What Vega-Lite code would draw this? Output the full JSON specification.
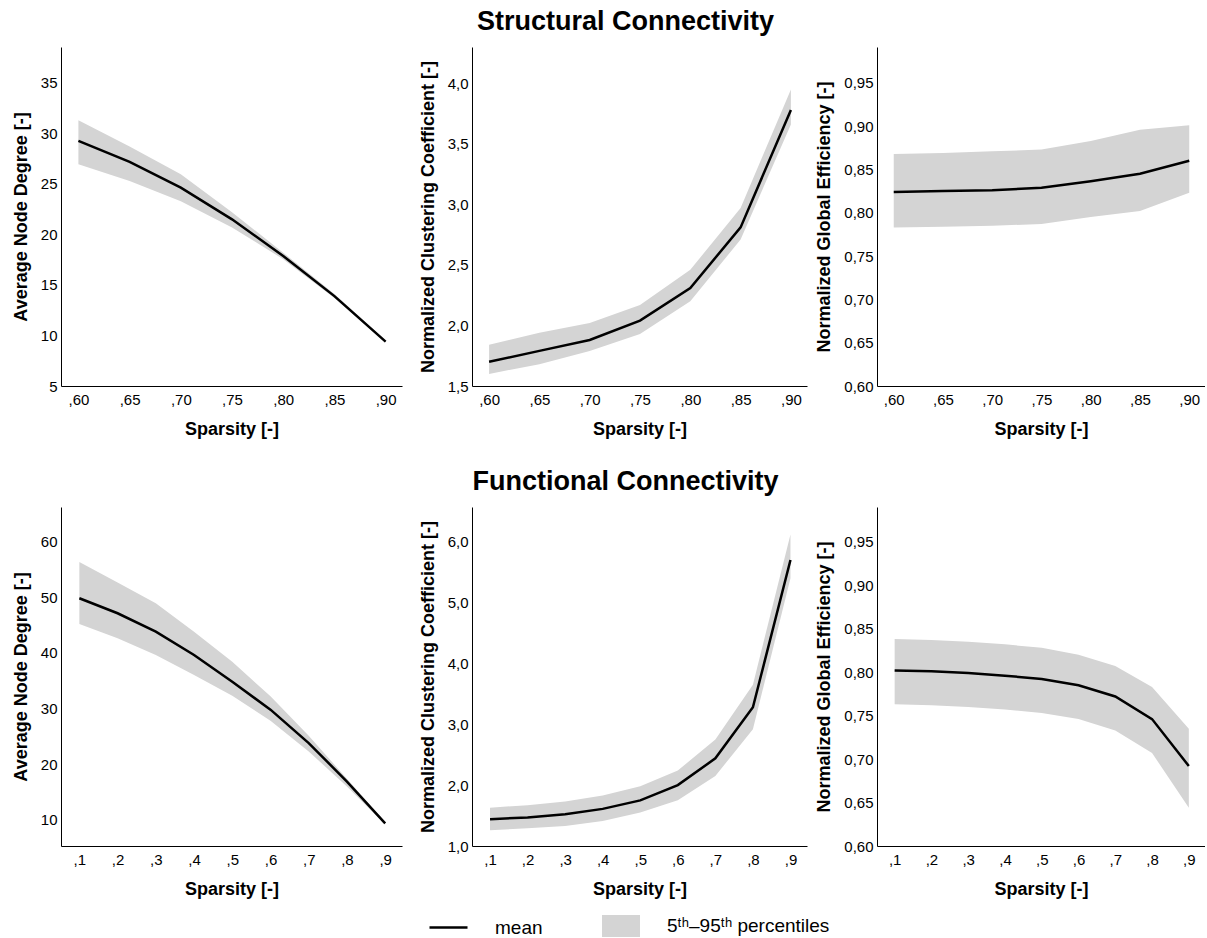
{
  "$schema": "https://vega.github.io/schema/vega-lite/v6.json",
  "background": "white",
  "padding": {"left": 12, "top": 8, "right": 0, "bottom": 0},
  "data": {"values": [
    {"p": "sc_deg", "s": 0.60, "m": 29.26, "lo": 26.95, "hi": 31.3},
    {"p": "sc_deg", "s": 0.65, "m": 27.18, "lo": 25.3, "hi": 28.7},
    {"p": "sc_deg", "s": 0.70, "m": 24.63, "lo": 23.3, "hi": 25.96},
    {"p": "sc_deg", "s": 0.75, "m": 21.5, "lo": 20.7, "hi": 22.2},
    {"p": "sc_deg", "s": 0.80, "m": 17.87, "lo": 17.55, "hi": 18.2},
    {"p": "sc_deg", "s": 0.85, "m": 13.9, "lo": 13.7, "hi": 14.1},
    {"p": "sc_deg", "s": 0.90, "m": 9.39, "lo": 9.3, "hi": 9.5},
    {"p": "sc_clu", "s": 0.60, "m": 1.70, "lo": 1.60, "hi": 1.84},
    {"p": "sc_clu", "s": 0.65, "m": 1.79, "lo": 1.68, "hi": 1.94},
    {"p": "sc_clu", "s": 0.70, "m": 1.88, "lo": 1.79, "hi": 2.02},
    {"p": "sc_clu", "s": 0.75, "m": 2.04, "lo": 1.93, "hi": 2.17},
    {"p": "sc_clu", "s": 0.80, "m": 2.31, "lo": 2.20, "hi": 2.46},
    {"p": "sc_clu", "s": 0.85, "m": 2.81, "lo": 2.71, "hi": 2.97},
    {"p": "sc_clu", "s": 0.90, "m": 3.78, "lo": 3.66, "hi": 3.95},
    {"p": "sc_eff", "s": 0.60, "m": 0.824, "lo": 0.783, "hi": 0.868},
    {"p": "sc_eff", "s": 0.65, "m": 0.825, "lo": 0.784, "hi": 0.869},
    {"p": "sc_eff", "s": 0.70, "m": 0.826, "lo": 0.785, "hi": 0.871},
    {"p": "sc_eff", "s": 0.75, "m": 0.829, "lo": 0.787, "hi": 0.873},
    {"p": "sc_eff", "s": 0.80, "m": 0.8365, "lo": 0.795, "hi": 0.883},
    {"p": "sc_eff", "s": 0.85, "m": 0.845, "lo": 0.802, "hi": 0.896},
    {"p": "sc_eff", "s": 0.90, "m": 0.860, "lo": 0.823, "hi": 0.901},
    {"p": "fc_deg", "s": 0.1, "m": 49.8, "lo": 45.15, "hi": 56.3},
    {"p": "fc_deg", "s": 0.2, "m": 47.1, "lo": 42.6, "hi": 52.6},
    {"p": "fc_deg", "s": 0.3, "m": 43.8, "lo": 39.6, "hi": 48.9},
    {"p": "fc_deg", "s": 0.4, "m": 39.6, "lo": 36.0, "hi": 43.8},
    {"p": "fc_deg", "s": 0.5, "m": 34.8, "lo": 32.3, "hi": 38.4},
    {"p": "fc_deg", "s": 0.6, "m": 29.8, "lo": 27.8, "hi": 32.2},
    {"p": "fc_deg", "s": 0.7, "m": 23.8, "lo": 22.3, "hi": 25.1},
    {"p": "fc_deg", "s": 0.8, "m": 16.9, "lo": 16.0, "hi": 17.4},
    {"p": "fc_deg", "s": 0.9, "m": 9.4, "lo": 9.2, "hi": 9.6},
    {"p": "fc_clu", "s": 0.1, "m": 1.44, "lo": 1.26, "hi": 1.63},
    {"p": "fc_clu", "s": 0.2, "m": 1.47, "lo": 1.29, "hi": 1.67},
    {"p": "fc_clu", "s": 0.3, "m": 1.52, "lo": 1.33, "hi": 1.73},
    {"p": "fc_clu", "s": 0.4, "m": 1.61, "lo": 1.41, "hi": 1.83},
    {"p": "fc_clu", "s": 0.5, "m": 1.75, "lo": 1.55, "hi": 1.98},
    {"p": "fc_clu", "s": 0.6, "m": 2.00, "lo": 1.75, "hi": 2.24},
    {"p": "fc_clu", "s": 0.7, "m": 2.44, "lo": 2.15, "hi": 2.75},
    {"p": "fc_clu", "s": 0.8, "m": 3.28, "lo": 2.92, "hi": 3.65},
    {"p": "fc_clu", "s": 0.9, "m": 5.70, "lo": 5.40, "hi": 6.12},
    {"p": "fc_eff", "s": 0.1, "m": 0.802, "lo": 0.763, "hi": 0.838},
    {"p": "fc_eff", "s": 0.2, "m": 0.801, "lo": 0.762, "hi": 0.837},
    {"p": "fc_eff", "s": 0.3, "m": 0.799, "lo": 0.760, "hi": 0.835},
    {"p": "fc_eff", "s": 0.4, "m": 0.796, "lo": 0.757, "hi": 0.832},
    {"p": "fc_eff", "s": 0.5, "m": 0.792, "lo": 0.753, "hi": 0.828},
    {"p": "fc_eff", "s": 0.6, "m": 0.785, "lo": 0.746, "hi": 0.820},
    {"p": "fc_eff", "s": 0.7, "m": 0.772, "lo": 0.733, "hi": 0.807},
    {"p": "fc_eff", "s": 0.8, "m": 0.746, "lo": 0.707, "hi": 0.783},
    {"p": "fc_eff", "s": 0.9, "m": 0.692, "lo": 0.644, "hi": 0.735}
  ]},
  "spacing": 30,
  "vconcat": [
    {
      "hconcat": [
        {
          "width": 341, "height": 339,
          "transform": [{"filter": "datum.p === 'sc_deg'"}],
          "encoding": {"x": {"field": "s", "type": "quantitative", "scale": {"domain": [0.583, 0.916], "nice": false, "zero": false}, "axis": {"title": "Sparsity [-]", "values": [0.6, 0.65, 0.7, 0.75, 0.8, 0.85, 0.9], "labelExpr": "replace(format(datum.value, '.2f'), '0.', ',')"}}},
          "layer": [
            {"mark": {"type": "area", "opacity": 1}, "encoding": {
              "y": {"field": "lo", "type": "quantitative", "scale": {"domain": [5, 38.56], "nice": false, "zero": false}, "axis": {"title": "Average Node Degree [-]", "values": [5, 10, 15, 20, 25, 30, 35], "format": "d"}},
              "y2": {"field": "hi"},
              "fill": {"datum": "5ᵗʰ–95ᵗʰ percentiles", "type": "nominal", "scale": {"domain": ["5ᵗʰ–95ᵗʰ percentiles"], "range": ["#d4d4d4"]},
                "legend": {"orient": "none", "legendX": 541, "legendY": 860, "title": null, "padding": 0, "symbolType": "M-1,-0.58H1V0.58H-1Z", "symbolSize": 1444, "symbolStrokeWidth": 0, "symbolOpacity": 1, "labelFontSize": 19, "labelFont": "Liberation Sans", "labelColor": "black", "labelOffset": 27, "labelLimit": 400}}
            }},
            {"mark": {"type": "line", "strokeWidth": 2.5}, "encoding": {
              "y": {"field": "m", "type": "quantitative", "axis": {"title": "Average Node Degree [-]", "values": [5, 10, 15, 20, 25, 30, 35], "format": "d"}},
              "stroke": {"datum": "mean", "type": "nominal", "scale": {"domain": ["mean"], "range": ["#000000"]},
                "legend": {"orient": "none", "legendX": 367, "legendY": 860, "title": null, "padding": 0, "symbolType": "stroke", "symbolSize": 1444, "symbolStrokeWidth": 2.5, "symbolOpacity": 1, "labelFontSize": 19, "labelFont": "Liberation Sans", "labelColor": "black", "labelOffset": 26, "labelLimit": 400}}
            }}
          ]
        },
        {
          "width": 335, "height": 339,
          "title": {"text": "Structural Connectivity", "anchor": "middle", "frame": "group", "fontSize": 27, "font": "Liberation Sans", "fontWeight": "bold", "color": "black", "offset": 11, "dx": -14},
          "transform": [{"filter": "datum.p === 'sc_clu'"}],
          "encoding": {"x": {"field": "s", "type": "quantitative", "scale": {"domain": [0.583, 0.916], "nice": false, "zero": false}, "axis": {"title": "Sparsity [-]", "values": [0.6, 0.65, 0.7, 0.75, 0.8, 0.85, 0.9], "labelExpr": "replace(format(datum.value, '.2f'), '0.', ',')"}}},
          "layer": [
            {"mark": {"type": "area", "opacity": 1}, "encoding": {
              "y": {"field": "lo", "type": "quantitative", "scale": {"domain": [1.5, 4.3], "nice": false, "zero": false}, "axis": {"title": "Normalized Clustering Coefficient [-]", "values": [1.5, 2, 2.5, 3, 3.5, 4], "labelExpr": "replace(format(datum.value, '.1f'), '.', ',')"}},
              "y2": {"field": "hi"},
              "fill": {"datum": "5ᵗʰ–95ᵗʰ percentiles", "type": "nominal"}
            }},
            {"mark": {"type": "line", "strokeWidth": 2.5}, "encoding": {
              "y": {"field": "m", "type": "quantitative", "axis": {"title": "Normalized Clustering Coefficient [-]", "values": [1.5, 2, 2.5, 3, 3.5, 4], "labelExpr": "replace(format(datum.value, '.1f'), '.', ',')"}},
              "stroke": {"datum": "mean", "type": "nominal"}
            }}
          ]
        },
        {
          "width": 328, "height": 339,
          "transform": [{"filter": "datum.p === 'sc_eff'"}],
          "encoding": {"x": {"field": "s", "type": "quantitative", "scale": {"domain": [0.583, 0.916], "nice": false, "zero": false}, "axis": {"title": "Sparsity [-]", "values": [0.6, 0.65, 0.7, 0.75, 0.8, 0.85, 0.9], "labelExpr": "replace(format(datum.value, '.2f'), '0.', ',')"}}},
          "layer": [
            {"mark": {"type": "area", "opacity": 1}, "encoding": {
              "y": {"field": "lo", "type": "quantitative", "scale": {"domain": [0.6, 0.9914], "nice": false, "zero": false}, "axis": {"title": "Normalized Global Efficiency [-]", "values": [0.6, 0.65, 0.7, 0.75, 0.8, 0.85, 0.9, 0.95], "labelExpr": "replace(format(datum.value, '.2f'), '.', ',')"}},
              "y2": {"field": "hi"},
              "fill": {"datum": "5ᵗʰ–95ᵗʰ percentiles", "type": "nominal"}
            }},
            {"mark": {"type": "line", "strokeWidth": 2.5}, "encoding": {
              "y": {"field": "m", "type": "quantitative", "axis": {"title": "Normalized Global Efficiency [-]", "values": [0.6, 0.65, 0.7, 0.75, 0.8, 0.85, 0.9, 0.95], "labelExpr": "replace(format(datum.value, '.2f'), '.', ',')"}},
              "stroke": {"datum": "mean", "type": "nominal"}
            }}
          ]
        }
      ],
      "spacing": 70,
      "bounds": "flush"
    },
    {
      "hconcat": [
        {
          "width": 341, "height": 339,
          "transform": [{"filter": "datum.p === 'fc_deg'"}],
          "encoding": {"x": {"field": "s", "type": "quantitative", "scale": {"domain": [0.052, 0.944], "nice": false, "zero": false}, "axis": {"title": "Sparsity [-]", "values": [0.1, 0.2, 0.3, 0.4, 0.5, 0.6, 0.7, 0.8, 0.9], "labelExpr": "replace(format(datum.value, '.1f'), '0.', ',')"}}},
          "layer": [
            {"mark": {"type": "area", "opacity": 1}, "encoding": {
              "y": {"field": "lo", "type": "quantitative", "scale": {"domain": [5.33, 66.17], "nice": false, "zero": false}, "axis": {"title": "Average Node Degree [-]", "values": [10, 20, 30, 40, 50, 60], "format": "d"}},
              "y2": {"field": "hi"},
              "fill": {"datum": "5ᵗʰ–95ᵗʰ percentiles", "type": "nominal"}
            }},
            {"mark": {"type": "line", "strokeWidth": 2.5}, "encoding": {
              "y": {"field": "m", "type": "quantitative", "axis": {"title": "Average Node Degree [-]", "values": [10, 20, 30, 40, 50, 60], "format": "d"}},
              "stroke": {"datum": "mean", "type": "nominal"}
            }}
          ]
        },
        {
          "width": 335, "height": 339,
          "title": {"text": "Functional Connectivity", "anchor": "middle", "frame": "group", "fontSize": 27, "font": "Liberation Sans", "fontWeight": "bold", "color": "black", "offset": 11, "dx": -14},
          "transform": [{"filter": "datum.p === 'fc_clu'"}],
          "encoding": {"x": {"field": "s", "type": "quantitative", "scale": {"domain": [0.052, 0.944], "nice": false, "zero": false}, "axis": {"title": "Sparsity [-]", "values": [0.1, 0.2, 0.3, 0.4, 0.5, 0.6, 0.7, 0.8, 0.9], "labelExpr": "replace(format(datum.value, '.1f'), '0.', ',')"}}},
          "layer": [
            {"mark": {"type": "area", "opacity": 1}, "encoding": {
              "y": {"field": "lo", "type": "quantitative", "scale": {"domain": [1.0, 6.57], "nice": false, "zero": false}, "axis": {"title": "Normalized Clustering Coefficient [-]", "values": [1, 2, 3, 4, 5, 6], "labelExpr": "replace(format(datum.value, '.1f'), '.', ',')"}},
              "y2": {"field": "hi"},
              "fill": {"datum": "5ᵗʰ–95ᵗʰ percentiles", "type": "nominal"}
            }},
            {"mark": {"type": "line", "strokeWidth": 2.5}, "encoding": {
              "y": {"field": "m", "type": "quantitative", "axis": {"title": "Normalized Clustering Coefficient [-]", "values": [1, 2, 3, 4, 5, 6], "labelExpr": "replace(format(datum.value, '.1f'), '.', ',')"}},
              "stroke": {"datum": "mean", "type": "nominal"}
            }}
          ]
        },
        {
          "width": 328, "height": 339,
          "transform": [{"filter": "datum.p === 'fc_eff'"}],
          "encoding": {"x": {"field": "s", "type": "quantitative", "scale": {"domain": [0.052, 0.944], "nice": false, "zero": false}, "axis": {"title": "Sparsity [-]", "values": [0.1, 0.2, 0.3, 0.4, 0.5, 0.6, 0.7, 0.8, 0.9], "labelExpr": "replace(format(datum.value, '.1f'), '0.', ',')"}}},
          "layer": [
            {"mark": {"type": "area", "opacity": 1}, "encoding": {
              "y": {"field": "lo", "type": "quantitative", "scale": {"domain": [0.6, 0.99], "nice": false, "zero": false}, "axis": {"title": "Normalized Global Efficiency [-]", "values": [0.6, 0.65, 0.7, 0.75, 0.8, 0.85, 0.9, 0.95], "labelExpr": "replace(format(datum.value, '.2f'), '.', ',')"}},
              "y2": {"field": "hi"},
              "fill": {"datum": "5ᵗʰ–95ᵗʰ percentiles", "type": "nominal"}
            }},
            {"mark": {"type": "line", "strokeWidth": 2.5}, "encoding": {
              "y": {"field": "m", "type": "quantitative", "axis": {"title": "Normalized Global Efficiency [-]", "values": [0.6, 0.65, 0.7, 0.75, 0.8, 0.85, 0.9, 0.95], "labelExpr": "replace(format(datum.value, '.2f'), '.', ',')"}},
              "stroke": {"datum": "mean", "type": "nominal"}
            }}
          ]
        }
      ],
      "spacing": 70,
      "bounds": "flush"
    }
  ],
  "resolve": {"scale": {"fill": "shared", "stroke": "shared"}, "legend": {"fill": "shared", "stroke": "shared"}},
  "config": {
    "view": {"stroke": null},
    "font": "Liberation Sans",
    "axis": {"ticks": false, "tickSize": 0, "grid": false, "domainColor": "black", "domainWidth": 1, "labelFont": "Liberation Sans", "labelFontSize": 15, "labelColor": "black", "labelFlush": false, "labelOverlap": false, "titleFont": "Liberation Sans", "titleFontSize": 18, "titleFontWeight": "bold", "titleColor": "black", "labelPadding": 4, "titlePadding": 10},
    "axisX": {"labelPadding": 6, "titlePadding": 13}
  }
}
